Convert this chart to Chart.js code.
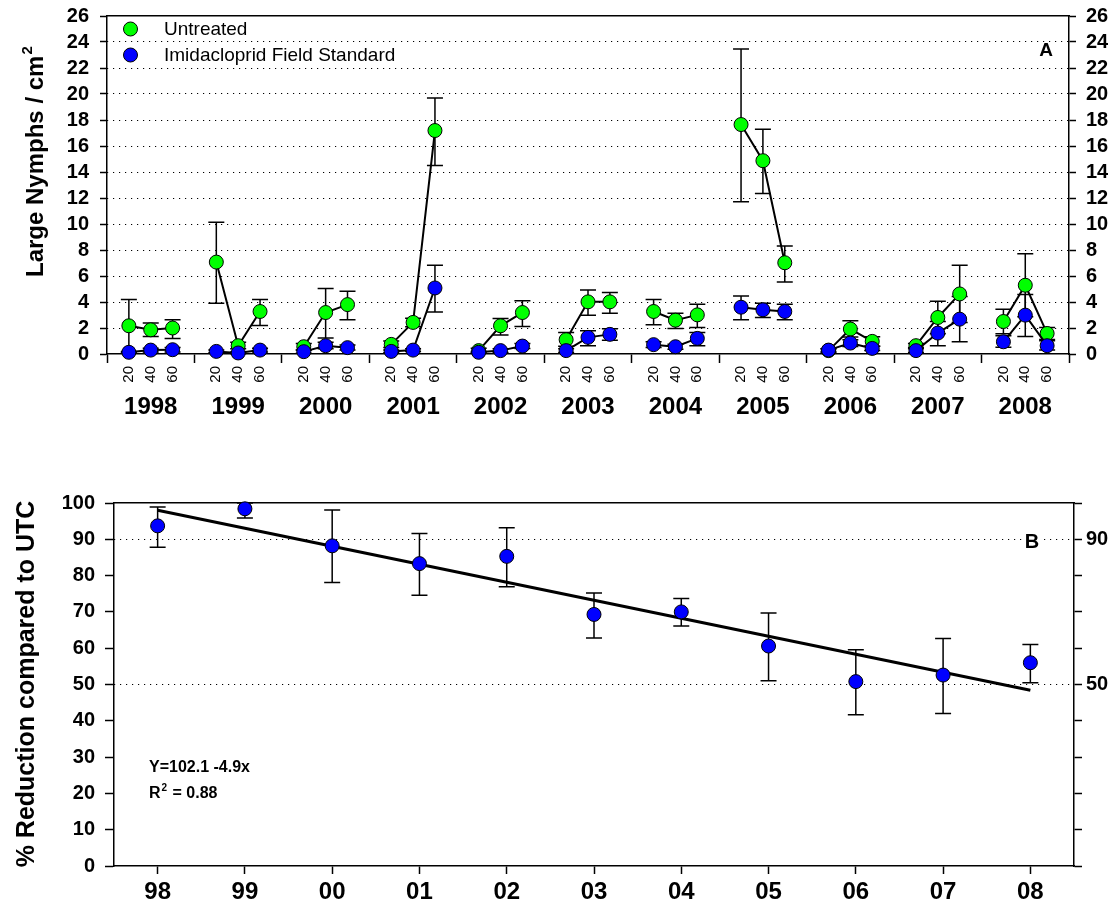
<!DOCTYPE html>
<html>
<head>
<meta charset="utf-8">
<title>Large nymphs per cm2 and % reduction compared to UTC, 1998-2008</title>
<script src="https://cdn.jsdelivr.net/npm/chart.js@4.4.1/dist/chart.umd.min.js"></script>
<style>
    body { margin: 0; background: #fff; }
    #wrap { position: relative; width: 1114px; height: 905px; }
    #topBox { position: absolute; left: 0; top: 0; width: 1114px; height: 430px; }
    #bottomBox { position: absolute; left: 0; top: 430px; width: 1114px; height: 475px; }
</style>
</head>
<body>
<div id="wrap">
    <div id="topBox"><canvas id="chartNymphs"></canvas></div>
    <div id="bottomBox"><canvas id="chartReduction"></canvas></div>
</div>
<script>
// ******** DATA (panel A) ********
const years = ['1998', '1999', '2000', '2001', '2002', '2003', '2004', '2005', '2006', '2007', '2008'];
const doses = ['20', '40', '60'];

// 3 values per year : 20, 40, 60
const untreatedMean  = [2.17, 1.86, 2.0,   7.07, 0.64, 3.27,  0.56, 3.19, 3.8,   0.74, 2.43, 17.19,
                        0.26, 2.17, 3.19,  1.1, 4.01, 4.01,   3.27, 2.6, 3.01,   17.65, 14.87, 7.02,
                        0.26, 1.92, 0.97,  0.64, 2.81, 4.62,  2.5, 5.29, 1.58];
const untreatedUpper = [4.2, 2.38, 2.63,   10.14, 0.9, 4.2,   0.8, 5.03, 4.83,   1.0, 2.75, 19.7,
                        0.45, 2.73, 4.09,  1.66, 4.93, 4.73,  4.2, 3.14, 3.83,   23.47, 17.29, 8.3,
                        0.4, 2.55, 1.33,   0.8, 4.06, 6.82,   3.45, 7.71, 2.04];
const untreatedLower = [0.14, 1.35, 1.2,   3.9, 0.4, 2.2,     0.3, 1.23, 2.63,   0.5, 2.1, 14.5,
                        0.1, 1.46, 2.12,   0.6, 2.99, 3.14,   2.25, 1.97, 2.04,  11.72, 12.34, 5.54,
                        0.1, 1.3, 0.6,     0.5, 1.56, 2.42,   1.55, 2.87, 1.12];

const imidaMean  = [0.13, 0.3, 0.33,  0.2, 0.08, 0.3,   0.18, 0.64, 0.49,  0.2, 0.3, 5.08,
                    0.13, 0.26, 0.61, 0.26, 1.28, 1.51, 0.72, 0.56, 1.2,   3.6, 3.4, 3.27,
                    0.3, 0.84, 0.43,  0.26, 1.61, 2.68, 0.94, 2.99, 0.64];
const imidaUpper = [0.2, 0.45, 0.5,   0.3, 0.15, 0.45,  0.3, 0.9, 0.7,     0.3, 0.4, 6.82,
                    0.2, 0.4, 0.8,    0.4, 1.79, 1.95,  0.95, 0.75, 1.66,  4.47, 3.91, 3.83,
                    0.4, 1.1, 0.6,    0.4, 2.5, 4.42,   1.4, 4.57, 1.02];
const imidaLower = [0.06, 0.15, 0.16, 0.1, 0.02, 0.15,  0.06, 0.4, 0.3,    0.1, 0.2, 3.24,
                    0.06, 0.12, 0.42, 0.12, 0.64, 1.05, 0.5, 0.37, 0.64,   2.63, 2.81, 2.63,
                    0.2, 0.58, 0.26,  0.12, 0.64, 0.94, 0.51, 1.35, 0.3];

// ******** DATA (panel B) ********
const yearShort = ['98', '99', '00', '01', '02', '03', '04', '05', '06', '07', '08'];
const reductionMean  = [93.7, 98.4, 88.2, 83.3, 85.3, 69.3, 70.0, 60.6, 50.8, 52.6, 56.0];
const reductionUpper = [98.9, 100.0, 98.1, 91.6, 93.2, 75.2, 73.7, 69.7, 59.6, 62.7, 61.0];
const reductionLower = [87.8, 95.9, 78.1, 74.6, 76.9, 62.8, 66.1, 51.0, 41.7, 42.0, 50.5];
const trendStart = 98.0;   // fitted line at 98
const trendEnd = 48.4;     // fitted line at 08
const reductionRightLabels = [90, 50];
const reductionGridLines = [50, 90];

const FONT = '"Liberation Sans", Arial, Helvetica, sans-serif';
Chart.defaults.font.family = FONT;
Chart.defaults.color = '#000';

// points of one series, a null after each year so the line breaks between years
const buildSeries = (mean, upper, lower) => {
    let points = [];
    for (let g = 0; g < years.length; g++) {
        for (let d = 0; d < doses.length; d++) {
            let i = g * doses.length + d;
            points.push({ x: g * 4 + d + 1, y: mean[i], yMax: upper[i], yMin: lower[i] });
        }
        if (g < years.length - 1) {
            points.push({ x: g * 4 + 4, y: null });
        }
    }
    return points;
}

// keep chart area where we want it (no extra room for half labels)
const fixWidth = (w) => (scale) => {
    scale.width = w;
    scale.paddingTop = 0;
    scale.paddingBottom = 0;
}
const fixHeight = (h) => (scale) => {
    scale.height = h;
    scale.paddingLeft = 0;
    scale.paddingRight = 0;
}

// error bars, drawn under the markers
const errorBarPlugin = {
    id: 'errorBars',
    beforeDatasetsDraw(chart) {
        const ctx = chart.ctx;
        ctx.save();
        ctx.strokeStyle = '#000';
        ctx.lineWidth = 1.5;
        chart.data.datasets.forEach(ds => {
            const xs = chart.scales[ds.xAxisID];
            const ys = chart.scales[ds.yAxisID];
            ds.data.forEach(p => {
                if (p.y == null || p.yMax == undefined) return;
                const px = xs.getPixelForValue(p.x);
                const top = ys.getPixelForValue(p.yMax);
                const bot = ys.getPixelForValue(p.yMin);
                ctx.beginPath();
                ctx.moveTo(px, top); ctx.lineTo(px, bot);
                ctx.moveTo(px - 8, top); ctx.lineTo(px + 8, top);
                ctx.moveTo(px - 8, bot); ctx.lineTo(px + 8, bot);
                ctx.stroke();
            });
        });
        ctx.restore();
    }
};

// draws "text" with a small raised 2 after it
const textWithSquare = (ctx, text, tail, size, x, y) => {
    ctx.font = 'bold ' + size + 'px ' + FONT;
    ctx.fillText(text, x, y);
    let w = ctx.measureText(text).width;
    ctx.font = 'bold ' + Math.round(size * 0.62) + 'px ' + FONT;
    ctx.fillText('2', x + w + 1, y - size * 0.45);
    let w2 = ctx.measureText('2').width;
    if (tail) {
        ctx.font = 'bold ' + size + 'px ' + FONT;
        ctx.fillText(tail, x + w + w2 + 2, y);
    }
}

// legend, panel letter and y title of panel A
const nymphTextPlugin = {
    id: 'nymphText',
    afterDraw(chart) {
        const ctx = chart.ctx;
        ctx.save();
        ctx.fillStyle = '#000';
        ctx.textBaseline = 'alphabetic';
        ctx.textAlign = 'left';

        ctx.save();
        ctx.translate(43, 277);
        ctx.rotate(-Math.PI / 2);
        textWithSquare(ctx, 'Large Nymphs / cm', '', 24, 0, 0);
        ctx.restore();

        // legend
        const rows = [29, 55];
        chart.data.datasets.forEach((ds, i) => {
            ctx.beginPath();
            ctx.arc(130.5, rows[i], 7, 0, Math.PI * 2);
            ctx.fillStyle = ds.pointBackgroundColor;
            ctx.fill();
            ctx.lineWidth = 1;
            ctx.strokeStyle = '#000';
            ctx.stroke();
            ctx.fillStyle = '#000';
            ctx.font = '19px ' + FONT;
            ctx.textBaseline = 'middle';
            ctx.fillText(ds.label, 164, rows[i] + 1);
        });

        ctx.font = 'bold 19px ' + FONT;
        ctx.textAlign = 'center';
        ctx.textBaseline = 'middle';
        ctx.fillText('A', 1046, 51);
        ctx.restore();
    }
};

// panel letter, equation and y title of panel B
const reductionTextPlugin = {
    id: 'reductionText',
    afterDraw(chart) {
        const ctx = chart.ctx;
        ctx.save();
        ctx.fillStyle = '#000';

        ctx.save();
        ctx.translate(34, 254);
        ctx.rotate(-Math.PI / 2);
        ctx.font = 'bold 25px ' + FONT;
        ctx.textAlign = 'center';
        ctx.textBaseline = 'alphabetic';
        ctx.fillText('% Reduction compared to UTC', 0, 0);
        ctx.restore();

        ctx.textAlign = 'left';
        ctx.textBaseline = 'alphabetic';
        ctx.font = 'bold 16px ' + FONT;
        ctx.fillText('Y=102.1 -4.9x', 149, 342);
        textWithSquare(ctx, 'R', ' = 0.88', 16, 149, 368);

        ctx.fillStyle = '#fff';
        ctx.fillRect(1022, 100, 20, 22);
        ctx.fillStyle = '#000';
        ctx.font = 'bold 20px ' + FONT;
        ctx.textAlign = 'center';
        ctx.textBaseline = 'middle';
        ctx.fillText('B', 1032, 112);
        ctx.restore();
    }
};

const tickFont = { size: 20, weight: 'bold' };
const clear = 'rgba(0,0,0,0)';

// ******** PANEL A ********
const chartNymphs = new Chart(document.getElementById('chartNymphs'), {
    type: 'line',
    data: {
        datasets: [{
            label: 'Untreated',
            data: buildSeries(untreatedMean, untreatedUpper, untreatedLower),
            xAxisID: 'x', yAxisID: 'y',
            borderColor: '#000', borderWidth: 2,
            pointBackgroundColor: '#00ff00', pointBorderColor: '#000',
            pointBorderWidth: 1, pointRadius: 7,
            spanGaps: false, clip: false, order: 1
        }, {
            label: 'Imidacloprid Field Standard',
            data: buildSeries(imidaMean, imidaUpper, imidaLower),
            xAxisID: 'x', yAxisID: 'y',
            borderColor: '#000', borderWidth: 2,
            pointBackgroundColor: '#0000ff', pointBorderColor: '#000',
            pointBorderWidth: 1, pointRadius: 7,
            spanGaps: false, clip: false, order: 0
        }]
    },
    options: {
        responsive: true,
        maintainAspectRatio: false,
        animation: false,
        events: [],
        layout: { padding: 0 },
        plugins: { legend: { display: false }, tooltip: { enabled: false } },
        scales: {
            x: {
                type: 'linear', position: 'bottom', min: 0, max: 44,
                afterBuildTicks: (scale) => {
                    scale.ticks = Array.from({ length: 45 }, (_, i) => ({ value: i }));
                },
                afterFit: fixHeight(38),
                ticks: {
                    autoSkip: false, minRotation: 90, maxRotation: 90, padding: 3,
                    font: { size: 15 },
                    callback: (v) => (v % 4 === 0 ? '' : doses[(v % 4) - 1])
                },
                grid: {
                    drawOnChartArea: false, tickLength: 9, tickWidth: 1.5,
                    color: (ctx) => (ctx.tick && ctx.tick.value % 4 === 0 ? '#000' : clear)
                },
                border: { color: '#000', width: 1.5 }
            },
            xYear: {
                type: 'linear', position: 'bottom', min: 0, max: 44,
                afterBuildTicks: (scale) => {
                    scale.ticks = years.map((y, g) => ({ value: g * 4 + 2 }));
                },
                afterFit: fixHeight(38),
                ticks: {
                    autoSkip: false, maxRotation: 0, padding: 1,
                    font: { size: 24, weight: 'bold' },
                    callback: (v) => years[(v - 2) / 4]
                },
                grid: { display: false, drawTicks: false },
                border: { display: false }
            },
            xTop: {
                type: 'linear', position: 'top', min: 0, max: 44,
                afterFit: fixHeight(16),
                ticks: { display: false },
                grid: { display: false, drawTicks: false },
                border: { color: '#000', width: 1.5 }
            },
            y: {
                type: 'linear', position: 'left', min: 0, max: 26,
                afterFit: fixWidth(107),
                ticks: { stepSize: 2, autoSkip: false, padding: 11, font: tickFont },
                grid: { drawOnChartArea: false, tickLength: 7, tickWidth: 1.5, color: '#000' },
                border: { color: '#000', width: 1.5 }
            },
            yGrid: {
                type: 'linear', position: 'left', min: 0, max: 26,
                afterFit: fixWidth(0),
                ticks: { display: false, stepSize: 2, autoSkip: false },
                grid: {
                    drawTicks: false, lineWidth: 1,
                    color: (ctx) => (ctx.tick && (ctx.tick.value === 0 || ctx.tick.value === 26) ? clear : '#000'),
                    borderDash: [1.2, 4.8]
                },
                border: { display: false, dash: [1.2, 4.8] }
            },
            y2: {
                type: 'linear', position: 'right', min: 0, max: 26,
                afterFit: fixWidth(45),
                ticks: { stepSize: 2, autoSkip: false, padding: 10, font: tickFont },
                grid: { drawOnChartArea: false, tickLength: 7, tickWidth: 1.5, color: '#000' },
                border: { color: '#000', width: 1.5 }
            }
        }
    },
    plugins: [errorBarPlugin, nymphTextPlugin]
});

// ******** PANEL B ********
const reductionPoints = reductionMean.map((v, i) => ({ x: i, y: v, yMax: reductionUpper[i], yMin: reductionLower[i] }));

const chartReduction = new Chart(document.getElementById('chartReduction'), {
    type: 'line',
    data: {
        datasets: [{
            label: '% Reduction',
            data: reductionPoints,
            xAxisID: 'x', yAxisID: 'y',
            showLine: false,
            pointBackgroundColor: '#0000ff', pointBorderColor: '#000',
            pointBorderWidth: 1, pointRadius: 7,
            clip: false, order: 0
        }, {
            label: 'Regression',
            data: [{ x: 0, y: trendStart }, { x: yearShort.length - 1, y: trendEnd }],
            xAxisID: 'x', yAxisID: 'y',
            borderColor: '#000', borderWidth: 3, pointRadius: 0,
            clip: false, order: 1
        }]
    },
    options: {
        responsive: true,
        maintainAspectRatio: false,
        animation: false,
        events: [],
        layout: { padding: 0 },
        plugins: { legend: { display: false }, tooltip: { enabled: false } },
        scales: {
            x: {
                type: 'linear', position: 'bottom', min: -0.5, max: yearShort.length - 0.5,
                afterBuildTicks: (scale) => {
                    scale.ticks = yearShort.map((y, i) => ({ value: i }));
                },
                afterFit: fixHeight(39),
                ticks: {
                    autoSkip: false, maxRotation: 0, padding: 4,
                    font: { size: 24, weight: 'bold' },
                    callback: (v) => yearShort[v]
                },
                grid: { drawOnChartArea: false, tickLength: 8, tickWidth: 1.5, color: '#000' },
                border: { color: '#000', width: 1.5 }
            },
            xTop: {
                type: 'linear', position: 'top', min: -0.5, max: yearShort.length - 0.5,
                afterFit: fixHeight(73),
                ticks: { display: false },
                grid: { display: false, drawTicks: false },
                border: { color: '#000', width: 1.5 }
            },
            y: {
                type: 'linear', position: 'left', min: 0, max: 100,
                afterFit: fixWidth(114),
                ticks: { stepSize: 10, autoSkip: false, padding: 10, font: tickFont },
                grid: { drawOnChartArea: false, tickLength: 9, tickWidth: 1.5, color: '#000' },
                border: { color: '#000', width: 1.5 }
            },
            yGrid: {
                type: 'linear', position: 'left', min: 0, max: 100,
                afterFit: fixWidth(0),
                afterBuildTicks: (scale) => {
                    scale.ticks = reductionGridLines.map(v => ({ value: v }));
                },
                ticks: { display: false, autoSkip: false },
                grid: { drawTicks: false, lineWidth: 1, color: '#000', borderDash: [1.2, 4.8] },
                border: { display: false, dash: [1.2, 4.8] }
            },
            y2: {
                type: 'linear', position: 'right', min: 0, max: 100,
                afterFit: fixWidth(40),
                ticks: {
                    stepSize: 10, autoSkip: false, padding: 4, font: tickFont,
                    callback: (v) => (reductionRightLabels.includes(v) ? String(v) : '')
                },
                grid: { drawOnChartArea: false, tickLength: 8, tickWidth: 1.5, color: '#000' },
                border: { color: '#000', width: 1.5 }
            }
        }
    },
    plugins: [errorBarPlugin, reductionTextPlugin]
});
</script>
</body>
</html>
